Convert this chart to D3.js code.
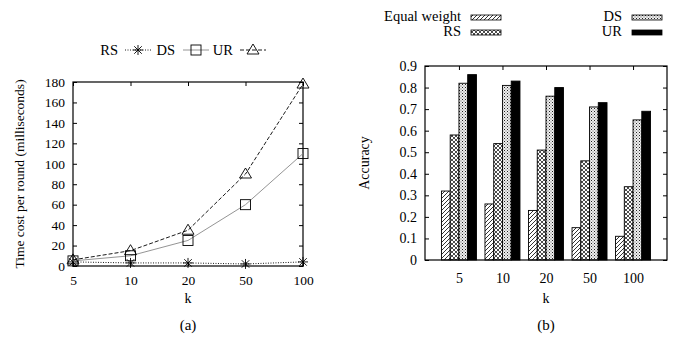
<!DOCTYPE html>
<html>
<head>
<meta charset="utf-8">
<script src="https://cdn.jsdelivr.net/npm/d3@7"></script>
<style>
  body { margin: 0; background: #fff; }
  text { font-family: "Liberation Serif", "Times New Roman", serif; fill: #000; }
</style>
</head>
<body>
<svg id="chart" width="678" height="343"></svg>
<script>
// data
const ks = ['5', '10', '20', '50', '100'];

const timeRS = [4, 3, 3, 2, 4];
const timeDS = [5, 10, 25, 60, 110];
const timeUR = [6, 15, 35, 90, 178];
const timeTicks = [0, 20, 40, 60, 80, 100, 120, 140, 160, 180];

const accEqual = [0.32, 0.26, 0.23, 0.15, 0.11];
const accRS = [0.58, 0.54, 0.51, 0.46, 0.34];
const accDS = [0.82, 0.81, 0.76, 0.71, 0.65];
const accUR = [0.86, 0.83, 0.80, 0.73, 0.69];
const accTicks = [0, 0.1, 0.2, 0.3, 0.4, 0.5, 0.6, 0.7, 0.8, 0.9];

const svg = d3.select('#chart');
const fsA = 13.5, fsB = 14, fsLeg = 14.5;

// patterns for bars
const defs = svg.append('defs');
const hatch = defs.append('pattern').attr('id', 'hatch')
  .attr('patternUnits', 'userSpaceOnUse').attr('width', 4).attr('height', 4);
hatch.append('rect').attr('width', 4).attr('height', 4).attr('fill', '#fff');
hatch.append('path').attr('d', 'M-1,1 L1,-1 M0,4 L4,0 M3,5 L5,3')
  .attr('stroke', '#000').attr('stroke-width', 0.8);

const cross = defs.append('pattern').attr('id', 'cross')
  .attr('patternUnits', 'userSpaceOnUse').attr('width', 4).attr('height', 4);
cross.append('rect').attr('width', 4).attr('height', 4).attr('fill', '#fff');
cross.append('path').attr('d', 'M0,0 L4,4 M0,4 L4,0')
  .attr('stroke', '#000').attr('stroke-width', 0.7);

const dots = defs.append('pattern').attr('id', 'dots')
  .attr('patternUnits', 'userSpaceOnUse').attr('width', 3).attr('height', 3);
dots.append('rect').attr('width', 3).attr('height', 3).attr('fill', '#eee');
dots.append('rect').attr('width', 1).attr('height', 1).attr('fill', '#222');
dots.append('rect').attr('x', 1.5).attr('y', 1.5).attr('width', 1).attr('height', 1).attr('fill', '#666');

// ---------- (a) line chart ----------
const A = {left: 73, right: 303, top: 82, bottom: 266};
const xa = d3.scalePoint().domain(ks).range([A.left, A.right]);
const ya = d3.scaleLinear().domain([0, 180]).range([A.bottom, A.top]);

const ga = svg.append('g');

function frame(g, box) {
  g.append('rect')
    .attr('x', box.left).attr('y', box.top)
    .attr('width', box.right - box.left).attr('height', box.bottom - box.top)
    .attr('fill', 'none').attr('stroke', '#000').attr('stroke-width', 1.2);
}

// ticks, gnuplot style: inward and mirrored
ga.append('g').attr('transform', `translate(${A.left},0)`)
  .call(d3.axisLeft(ya).tickValues(timeTicks).tickSize(-4).tickPadding(8))
  .call(g => g.select('.domain').remove());
ga.append('g').attr('transform', `translate(${A.right},0)`)
  .call(d3.axisRight(ya).tickValues(timeTicks).tickSize(-4).tickFormat(''))
  .call(g => g.select('.domain').remove());
ga.append('g').attr('transform', `translate(0,${A.bottom})`)
  .call(d3.axisBottom(xa).tickSize(-4).tickPadding(9))
  .call(g => g.select('.domain').remove());
ga.append('g').attr('transform', `translate(0,${A.top})`)
  .call(d3.axisTop(xa).tickSize(-4).tickFormat(''))
  .call(g => g.select('.domain').remove());
ga.selectAll('.tick text').attr('font-size', fsA);
frame(ga, A);

const line = d3.line().x((d, i) => xa(ks[i])).y(d => ya(d));

const seriesA = [
  {name: 'RS', vals: timeRS, stroke: '#000', dash: '1,1.5', marker: 'star'},
  {name: 'DS', vals: timeDS, stroke: '#888', dash: null, marker: 'square'},
  {name: 'UR', vals: timeUR, stroke: '#000', dash: '4,2', marker: 'tri'}
];

function marker(g, type, x, y) {
  const s = 5;
  if (type === 'star') {
    g.append('path')
      .attr('d', `M${x - s},${y} L${x + s},${y} M${x},${y - s} L${x},${y + s} M${x - s * 0.75},${y - s * 0.75} L${x + s * 0.75},${y + s * 0.75} M${x - s * 0.75},${y + s * 0.75} L${x + s * 0.75},${y - s * 0.75}`)
      .attr('stroke', '#000').attr('stroke-width', 0.9).attr('fill', 'none');
  } else if (type === 'square') {
    g.append('rect').attr('x', x - s).attr('y', y - s).attr('width', 2 * s).attr('height', 2 * s)
      .attr('fill', 'none').attr('stroke', '#000').attr('stroke-width', 0.9);
  } else {
    g.append('path').attr('d', `M${x},${y - s - 1} L${x + s + 1},${y + s - 1} L${x - s - 1},${y + s - 1} Z`)
      .attr('fill', 'none').attr('stroke', '#000').attr('stroke-width', 0.9);
  }
}

seriesA.forEach(s => {
  ga.append('path').datum(s.vals).attr('d', line)
    .attr('fill', 'none').attr('stroke', s.stroke).attr('stroke-width', 0.9)
    .attr('stroke-dasharray', s.dash);
  s.vals.forEach((v, i) => marker(ga, s.marker, xa(ks[i]), ya(v)));
});

// legend (a)
const legA = [
  {x: 118, lx: 125}, {x: 175, lx: 183}, {x: 233, lx: 240}
];
seriesA.forEach((s, i) => {
  const L = legA[i];
  ga.append('text').attr('x', L.x).attr('y', 50).attr('dy', '0.35em')
    .attr('text-anchor', 'end').attr('font-size', fsLeg).text(s.name);
  ga.append('line').attr('x1', L.lx).attr('x2', L.lx + 26).attr('y1', 50).attr('y2', 50)
    .attr('stroke', s.stroke).attr('stroke-width', 0.9).attr('stroke-dasharray', s.dash);
  marker(ga, s.marker, L.lx + 13, 50);
});

ga.append('text').attr('x', (A.left + A.right) / 2).attr('y', 303)
  .attr('text-anchor', 'middle').attr('font-size', fsB).text('k');
ga.append('text').attr('transform', `translate(24,${(A.top + A.bottom) / 2}) rotate(-90)`)
  .attr('text-anchor', 'middle').attr('font-size', fsA).text('Time cost per round (milliseconds)');
ga.append('text').attr('x', 188).attr('y', 330)
  .attr('text-anchor', 'middle').attr('font-size', 15).text('(a)');

// ---------- (b) bar chart ----------
const B = {left: 425, right: 667, top: 66, bottom: 260};
const xb = d3.scalePoint().domain(ks).range([B.left, B.right]).padding(0.78);
const yb = d3.scaleLinear().domain([0, 0.9]).range([B.bottom, B.top]);
const gb = svg.append('g');

gb.append('g').attr('transform', `translate(${B.left},0)`)
  .call(d3.axisLeft(yb).tickValues(accTicks).tickSize(-4).tickPadding(8).tickFormat(d => d === 0 ? '0' : d3.format('.1f')(d)))
  .call(g => g.select('.domain').remove());
gb.append('g').attr('transform', `translate(${B.right},0)`)
  .call(d3.axisRight(yb).tickValues(accTicks).tickSize(-4).tickFormat(''))
  .call(g => g.select('.domain').remove());
gb.append('g').attr('transform', `translate(0,${B.bottom})`)
  .call(d3.axisBottom(xb).tickSize(0).tickPadding(13))
  .call(g => g.select('.domain').remove());
gb.append('g').attr('transform', `translate(0,${B.top})`)
  .call(d3.axisTop(xb).tickSize(-4).tickFormat(''))
  .call(g => g.select('.domain').remove());
gb.selectAll('.tick text').attr('font-size', fsB);

const seriesB = [
  {name: 'Equal weight', vals: accEqual, fill: 'url(#hatch)'},
  {name: 'RS', vals: accRS, fill: 'url(#cross)'},
  {name: 'DS', vals: accDS, fill: 'url(#dots)'},
  {name: 'UR', vals: accUR, fill: '#000'}
];
const inner = d3.scaleBand().domain(d3.range(seriesB.length))
  .range([-17.5, 17.5]).padding(0);

seriesB.forEach((s, j) => {
  gb.append('g').selectAll('rect').data(s.vals).join('rect')
    .attr('x', (d, i) => xb(ks[i]) + inner(j))
    .attr('y', d => yb(d))
    .attr('width', inner.bandwidth())
    .attr('height', d => yb(0) - yb(d))
    .attr('fill', s.fill).attr('stroke', '#000').attr('stroke-width', 0.9);
});
frame(gb, B);

// legend (b)
const legB = [
  {x: 461, y: 16}, {x: 461, y: 31}, {x: 622, y: 16}, {x: 622, y: 31}
];
seriesB.forEach((s, i) => {
  const L = legB[i];
  gb.append('text').attr('x', L.x).attr('y', L.y).attr('dy', '0.35em')
    .attr('text-anchor', 'end').attr('font-size', fsLeg).text(s.name);
  gb.append('rect').attr('x', L.x + 10).attr('y', L.y - 1).attr('width', 30).attr('height', 5)
    .attr('fill', s.fill).attr('stroke', '#000').attr('stroke-width', 0.8);
});

gb.append('text').attr('x', (B.left + B.right) / 2).attr('y', 303)
  .attr('text-anchor', 'middle').attr('font-size', fsB).text('k');
gb.append('text').attr('transform', `translate(369,${(B.top + B.bottom) / 2}) rotate(-90)`)
  .attr('text-anchor', 'middle').attr('font-size', fsB).text('Accuracy');
gb.append('text').attr('x', 546).attr('y', 330)
  .attr('text-anchor', 'middle').attr('font-size', 15).text('(b)');

svg.selectAll('.tick text').attr('font-family', '"Liberation Serif", serif');
</script>
</body>
</html>
